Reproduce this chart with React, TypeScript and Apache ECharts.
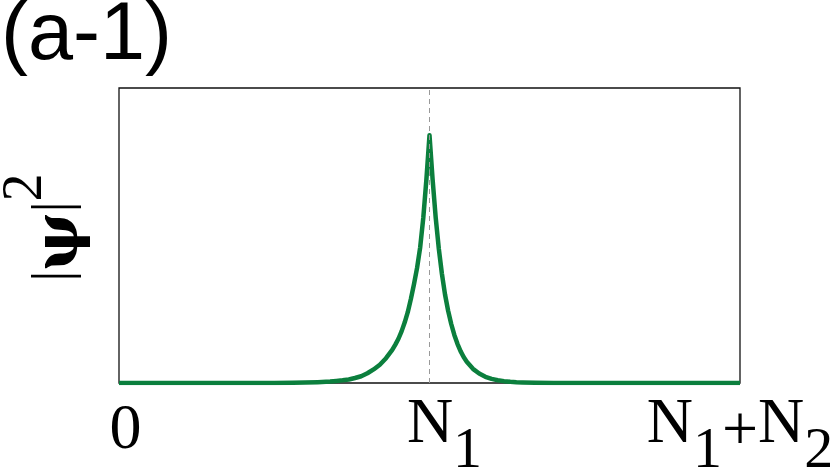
import React, { useEffect, useRef } from "react";
import * as echarts from "echarts";

// Lattice site positions (0 … N1+N2, with N1 at 100) and |ψ|²
const sites = [
  0, 40, 50, 56, 60, 64, 68, 70, 72, 74, 76, 78, 80, 82, 84, 86, 88, 89, 90, 91, 92, 93, 94, 95, 96, 97, 98, 99,
  100,
  101, 102, 103, 104, 105, 106, 107, 108, 109, 110, 111, 112, 114, 116, 118, 120, 122, 124, 126, 128, 130, 134, 140, 150, 160, 200,
];
const psi2 = [
  0, 0, 0.0003, 0.0008, 0.0015, 0.0028, 0.005, 0.0068, 0.009, 0.012, 0.017, 0.023, 0.033, 0.046, 0.062, 0.084, 0.112, 0.13, 0.15, 0.175, 0.205, 0.24, 0.285, 0.335, 0.39, 0.46, 0.56, 0.69,
  0.84,
  0.69, 0.56, 0.455, 0.37, 0.3, 0.245, 0.2, 0.163, 0.133, 0.108, 0.088, 0.072, 0.048, 0.032, 0.021, 0.014, 0.0095, 0.0063, 0.0042, 0.0028, 0.0019, 0.0008, 0.0002, 0, 0, 0,
];

const N1 = 100;
const xTicks: Record<number, string> = {
  0: "{z|0}",
  100: "{pad|}{n|N}{s|1}",
  200: "{n|N}{s|1}{p|+}{n|N}{s|2}",
};
const titleText = "(a-1)";
const yName = "{bar0||}{psi|ψ}{bar||}{sup|2}";

export default function App() {
  const ref = useRef<HTMLDivElement>(null);
  useEffect(() => {
    if (!ref.current) return;
    const chart = echarts.init(ref.current, null, { renderer: "svg" });
    const serif = "'Liberation Serif', 'Times New Roman', serif";
    const greek = "'DejaVu Serif', 'Liberation Serif', serif";
    chart.setOption({
      animation: false,
      title: {
        text: titleText,
        left: -4,
        top: -15,
        textStyle: {
          fontFamily: "'Liberation Sans', Arial, sans-serif",
          fontSize: 81,
          fontWeight: "normal",
          color: "#000",
        },
      },
      grid: {
        left: 119,
        right: 90,
        top: 88,
        bottom: 85,
        show: true,
        borderColor: "#111",
        borderWidth: 1.3,
        backgroundColor: "transparent",
        outerBoundsMode: "none",
        containLabel: false,
      },
      xAxis: {
        type: "value",
        min: 0,
        max: 200,
        interval: 100,
        axisLine: { show: false },
        axisTick: { show: false },
        splitLine: { show: false },
        axisLabel: {
          margin: 5,
          color: "#000",
          hideOverlap: false,
          formatter: (v: number) => xTicks[v] ?? "",
          rich: {
            z: { fontFamily: serif, fontSize: 64, lineHeight: 64, padding: [6, 0, 0, 13], verticalAlign: "top", color: "#000" },
            pad: { width: 30, height: 10 },
            n: { fontFamily: serif, fontSize: 64, lineHeight: 64, verticalAlign: "top", color: "#000" },
            p: { fontFamily: serif, fontSize: 64, lineHeight: 64, padding: [8, 0, 0, 0], verticalAlign: "top", color: "#000" },
            s: { fontFamily: serif, fontSize: 58, lineHeight: 58, padding: [30, 0, 0, 0], verticalAlign: "top", color: "#000" },
          },
        },
      },
      yAxis: {
        type: "value",
        min: 0,
        max: 1,
        axisLine: { show: false },
        axisTick: { show: false },
        axisLabel: { show: false },
        splitLine: { show: false },
        name: yName,
        nameLocation: "middle",
        nameRotate: 90,
        nameGap: 65,
        nameTextStyle: {
          rich: {
            bar0: { fontFamily: serif, fontSize: 54, lineHeight: 60, padding: [30, 0, 0, 16], verticalAlign: "top", color: "#000" },
            bar: { fontFamily: serif, fontSize: 54, lineHeight: 60, padding: [30, 0, 0, 0], verticalAlign: "top", color: "#000" },
            psi: { fontFamily: greek, fontSize: 62, fontWeight: "bold", lineHeight: 60, padding: [30, 0, 0, 0], verticalAlign: "top", color: "#000" },
            sup: { fontFamily: serif, fontSize: 56, lineHeight: 58, verticalAlign: "top", color: "#000" },
          },
        },
      },
      series: [
        {
          type: "line",
          data: sites.map((x, i) => [x, psi2[i]]),
          showSymbol: false,
          symbol: "none",
          lineStyle: { color: "#0b7f3d", width: 4.5, join: "round" },
          markLine: {
            silent: true,
            symbol: "none",
            label: { show: false },
            lineStyle: { color: "#999", width: 1, type: [5, 4] },
            data: [{ xAxis: N1 }],
          },
        },
      ],
    });
    return () => chart.dispose();
  }, []);
  return <div ref={ref} style={{ width: 830, height: 468, position: "absolute", left: 0, top: 0 }} />;
}
